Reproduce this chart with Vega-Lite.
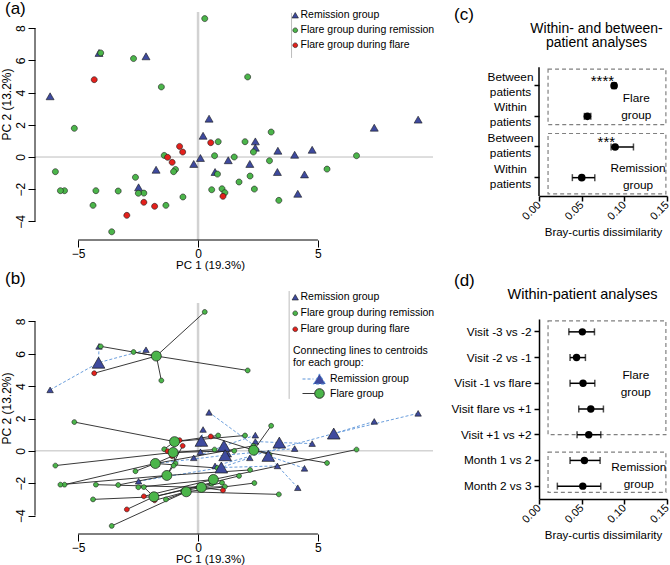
{
"$schema":"https://vega.github.io/schema/vega-lite/v6.json",
"background":"white",
"padding":{"left":0,"top":0,"right":0,"bottom":0},
"autosize":{"type":"pad"},
"spacing":15,
"resolve":{"scale":{"color":"independent","shape":"independent","strokeDash":"independent","strokeWidth":"independent"},"legend":{"color":"independent","shape":"independent","strokeDash":"independent","strokeWidth":"independent"}},
"config":{
 "font":"Liberation Sans",
 "view":{"stroke":null},
 "axis":{"grid":false,"labelColor":"#000","titleColor":"#000","domainColor":"#000","tickColor":"#000","titleFontWeight":"normal","labelFont":"Liberation Sans","titleFont":"Liberation Sans"},
 "legend":{"labelFont":"Liberation Sans","titleFont":"Liberation Sans","titleFontWeight":"normal","labelColor":"#000","titleColor":"#000"},
 "title":{"font":"Liberation Sans","fontWeight":"normal","color":"#000"},
 "text":{"font":"Liberation Sans"}
},
"datasets":{
 "pts":[
  {"pc1":-6.17,"pc2":3.77,"type":"Remission group","grp":"Remission group","cx":-4.15,"cy":5.45},
  {"pc1":-4.13,"pc2":6.46,"type":"Remission group","grp":"Remission group","cx":-4.15,"cy":5.45},
  {"pc1":-2.17,"pc2":6.25,"type":"Remission group","grp":"Remission group","cx":-4.15,"cy":5.45},
  {"pc1":0.21,"pc2":1.32,"type":"Remission group","grp":"Remission group","cx":0.14,"cy":0.62},
  {"pc1":0.10,"pc2":-0.06,"type":"Remission group","grp":"Remission group","cx":0.14,"cy":0.62},
  {"pc1":-0.18,"pc2":-0.43,"type":"Remission group","grp":"Remission group","cx":1.08,"cy":0.31},
  {"pc1":2.39,"pc2":0.97,"type":"Remission group","grp":"Remission group","cx":1.08,"cy":0.31},
  {"pc1":-1.75,"pc2":-0.79,"type":"Remission group","grp":"Remission group","cx":1.13,"cy":-0.27},
  {"pc1":1.26,"pc2":-0.2,"type":"Remission group","grp":"Remission group","cx":1.13,"cy":-0.27},
  {"pc1":4.03,"pc2":0.14,"type":"Remission group","grp":"Remission group","cx":1.13,"cy":-0.27},
  {"pc1":4.76,"pc2":0.45,"type":"Remission group","grp":"Remission group","cx":3.39,"cy":0.51},
  {"pc1":2.39,"pc2":0.58,"type":"Remission group","grp":"Remission group","cx":3.39,"cy":0.51},
  {"pc1":3.33,"pc2":0.39,"type":"Remission group","grp":"Remission group","cx":3.39,"cy":0.51},
  {"pc1":0.46,"pc2":2.38,"type":"Remission group","grp":"Remission group","cx":2.93,"cy":-0.31},
  {"pc1":4.44,"pc2":-1.08,"type":"Remission group","grp":"Remission group","cx":2.93,"cy":-0.31},
  {"pc1":4.16,"pc2":-2.28,"type":"Remission group","grp":"Remission group","cx":2.93,"cy":-0.31},
  {"pc1":-2.48,"pc2":-1.88,"type":"Remission group","grp":"Remission group","cx":0.97,"cy":-1.03},
  {"pc1":3.31,"pc2":-0.93,"type":"Remission group","grp":"Remission group","cx":0.97,"cy":-1.03},
  {"pc1":2.16,"pc2":-0.43,"type":"Remission group","grp":"Remission group","cx":0.97,"cy":-1.03},
  {"pc1":9.18,"pc2":2.32,"type":"Remission group","grp":"Remission group","cx":5.66,"cy":1.07},
  {"pc1":7.35,"pc2":1.82,"type":"Remission group","grp":"Remission group","cx":5.66,"cy":1.07},
  {"pc1":0.71,"pc2":-0.93,"type":"Remission group","grp":"Remission group","cx":5.66,"cy":1.07},
  {"pc1":0.28,"pc2":8.59,"type":"Flare group during remission","grp":"Flare group","cx":-1.74,"cy":5.86},
  {"pc1":-4.06,"pc2":6.46,"type":"Flare group during remission","grp":"Flare group","cx":-1.74,"cy":5.86},
  {"pc1":-2.69,"pc2":6.11,"type":"Flare group during remission","grp":"Flare group","cx":-1.74,"cy":5.86},
  {"pc1":-1.53,"pc2":4.35,"type":"Flare group during remission","grp":"Flare group","cx":-1.74,"cy":5.86},
  {"pc1":2.07,"pc2":4.97,"type":"Flare group during remission","grp":"Flare group","cx":-1.74,"cy":5.86},
  {"pc1":-5.16,"pc2":1.78,"type":"Flare group during remission","grp":"Flare group","cx":-0.98,"cy":0.57},
  {"pc1":0.84,"pc2":0.95,"type":"Flare group during remission","grp":"Flare group","cx":-0.98,"cy":0.57},
  {"pc1":1.96,"pc2":0.95,"type":"Flare group during remission","grp":"Flare group","cx":-0.98,"cy":0.57},
  {"pc1":-1.41,"pc2":0.1,"type":"Flare group during remission","grp":"Flare group","cx":-0.98,"cy":0.57},
  {"pc1":-5.95,"pc2":-0.91,"type":"Flare group during remission","grp":"Flare group","cx":-1.04,"cy":-0.1},
  {"pc1":0.69,"pc2":0.08,"type":"Flare group during remission","grp":"Flare group","cx":-1.04,"cy":-0.1},
  {"pc1":1.51,"pc2":0.0,"type":"Flare group during remission","grp":"Flare group","cx":-1.04,"cy":-0.1},
  {"pc1":-0.94,"pc2":-0.77,"type":"Flare group during remission","grp":"Flare group","cx":-1.04,"cy":-0.1},
  {"pc1":-5.57,"pc2":-2.09,"type":"Flare group during remission","grp":"Flare group","cx":-1.78,"cy":-0.78},
  {"pc1":-2.61,"pc2":-1.26,"type":"Flare group during remission","grp":"Flare group","cx":-1.78,"cy":-0.78},
  {"pc1":0.81,"pc2":-1.06,"type":"Flare group during remission","grp":"Flare group","cx":-1.78,"cy":-0.78},
  {"pc1":2.31,"pc2":0.31,"type":"Flare group during remission","grp":"Flare group","cx":-1.78,"cy":-0.78},
  {"pc1":-5.74,"pc2":-2.09,"type":"Flare group during remission","grp":"Flare group","cx":-1.30,"cy":-1.52},
  {"pc1":-1.02,"pc2":-0.91,"type":"Flare group during remission","grp":"Flare group","cx":-1.30,"cy":-1.52},
  {"pc1":2.17,"pc2":-1.18,"type":"Flare group during remission","grp":"Flare group","cx":-1.30,"cy":-1.52},
  {"pc1":-3.33,"pc2":-2.11,"type":"Flare group during remission","grp":"Flare group","cx":-1.30,"cy":-1.52},
  {"pc1":-4.38,"pc2":-3.0,"type":"Flare group during remission","grp":"Flare group","cx":-1.84,"cy":-2.84},
  {"pc1":-2.26,"pc2":-2.24,"type":"Flare group during remission","grp":"Flare group","cx":-1.84,"cy":-2.84},
  {"pc1":0.57,"pc2":-2.03,"type":"Flare group during remission","grp":"Flare group","cx":-1.84,"cy":-2.84},
  {"pc1":1.71,"pc2":-1.55,"type":"Flare group during remission","grp":"Flare group","cx":-1.84,"cy":-2.84},
  {"pc1":-3.6,"pc2":-4.64,"type":"Flare group during remission","grp":"Flare group","cx":-0.49,"cy":-2.53},
  {"pc1":-1.34,"pc2":-3.0,"type":"Flare group during remission","grp":"Flare group","cx":-0.49,"cy":-2.53},
  {"pc1":2.35,"pc2":-1.99,"type":"Flare group during remission","grp":"Flare group","cx":-0.49,"cy":-2.53},
  {"pc1":3.37,"pc2":-2.69,"type":"Flare group during remission","grp":"Flare group","cx":-0.49,"cy":-2.53},
  {"pc1":-4.26,"pc2":-2.09,"type":"Flare group during remission","grp":"Flare group","cx":0.14,"cy":-2.26},
  {"pc1":-0.63,"pc2":-2.48,"type":"Flare group during remission","grp":"Flare group","cx":0.14,"cy":-2.26},
  {"pc1":1.0,"pc2":-1.97,"type":"Flare group during remission","grp":"Flare group","cx":0.14,"cy":-2.26},
  {"pc1":1.12,"pc2":-2.21,"type":"Flare group during remission","grp":"Flare group","cx":0.14,"cy":-2.26},
  {"pc1":-2.49,"pc2":-2.25,"type":"Flare group during remission","grp":"Flare group","cx":0.64,"cy":-1.77},
  {"pc1":6.61,"pc2":0.08,"type":"Flare group during remission","grp":"Flare group","cx":0.64,"cy":-1.77},
  {"pc1":3.05,"pc2":1.55,"type":"Flare group during remission","grp":"Flare group","cx":2.32,"cy":0.04},
  {"pc1":2.98,"pc2":-0.23,"type":"Flare group during remission","grp":"Flare group","cx":2.32,"cy":0.04},
  {"pc1":5.38,"pc2":-0.75,"type":"Flare group during remission","grp":"Flare group","cx":2.32,"cy":0.04},
  {"pc1":-4.33,"pc2":4.8,"type":"Flare group during flare","grp":"Flare group","cx":-1.74,"cy":5.86},
  {"pc1":-0.77,"pc2":0.66,"type":"Flare group during flare","grp":"Flare group","cx":-0.98,"cy":0.57},
  {"pc1":-1.27,"pc2":-0.02,"type":"Flare group during flare","grp":"Flare group","cx":-1.04,"cy":-0.1},
  {"pc1":-1.08,"pc2":-0.33,"type":"Flare group during flare","grp":"Flare group","cx":-1.78,"cy":-0.78},
  {"pc1":-0.64,"pc2":0.31,"type":"Flare group during flare","grp":"Flare group","cx":-1.30,"cy":-1.52},
  {"pc1":-2.97,"pc2":-3.62,"type":"Flare group during flare","grp":"Flare group","cx":-1.84,"cy":-2.84},
  {"pc1":-1.81,"pc2":-3.06,"type":"Flare group during flare","grp":"Flare group","cx":-0.49,"cy":-2.53},
  {"pc1":1.04,"pc2":-2.44,"type":"Flare group during flare","grp":"Flare group","cx":0.14,"cy":-2.26},
  {"pc1":-2.26,"pc2":-2.81,"type":"Flare group during flare","grp":"Flare group","cx":0.64,"cy":-1.77},
  {"pc1":0.53,"pc2":0.89,"type":"Flare group during flare","grp":"Flare group","cx":2.32,"cy":0.04}
 ],
 "cent":[
  {"cx":-4.15,"cy":5.45,"grp":"Remission group"},
  {"cx":0.14,"cy":0.62,"grp":"Remission group"},
  {"cx":1.08,"cy":0.31,"grp":"Remission group"},
  {"cx":1.13,"cy":-0.27,"grp":"Remission group"},
  {"cx":0.97,"cy":-1.03,"grp":"Remission group"},
  {"cx":3.39,"cy":0.51,"grp":"Remission group"},
  {"cx":2.93,"cy":-0.31,"grp":"Remission group"},
  {"cx":5.66,"cy":1.07,"grp":"Remission group"},
  {"cx":-1.74,"cy":5.86,"grp":"Flare group"},
  {"cx":-0.98,"cy":0.57,"grp":"Flare group"},
  {"cx":-1.04,"cy":-0.1,"grp":"Flare group"},
  {"cx":-1.78,"cy":-0.78,"grp":"Flare group"},
  {"cx":-1.30,"cy":-1.52,"grp":"Flare group"},
  {"cx":-1.84,"cy":-2.84,"grp":"Flare group"},
  {"cx":-0.49,"cy":-2.53,"grp":"Flare group"},
  {"cx":0.14,"cy":-2.26,"grp":"Flare group"},
  {"cx":0.64,"cy":-1.77,"grp":"Flare group"},
  {"cx":2.32,"cy":0.04,"grp":"Flare group"}
 ],
 "cdat":[
  {"cat":"Between patients|F","mean":0.088,"lo":0.0855,"hi":0.0905,"sig":"****"},
  {"cat":"Within patients|F","mean":0.0567,"lo":0.0532,"hi":0.0607},
  {"cat":"Between patients|R","mean":0.0892,"lo":0.0845,"hi":0.1107,"sig":"***"},
  {"cat":"Within patients|R","mean":0.0501,"lo":0.0391,"hi":0.0654}
 ],
 "cbox":[
  {"grp":"Flare","top":"Between patients|F","bottom":"Within patients|F","at":"Between patients|F","label":"Flare\ngroup"},
  {"grp":"Remission","top":"Between patients|R","bottom":"Within patients|R","at":"Within patients|R","label":"Remission\ngroup"}
 ],
 "caxis":[{"first":"Between patients|F","last":"Within patients|R"}],
 "ddat":[
  {"cat":"Visit -3 vs -2","mean":0.0508,"lo":0.035,"hi":0.065},
  {"cat":"Visit -2 vs -1","mean":0.044,"lo":0.0364,"hi":0.0544},
  {"cat":"Visit -1 vs flare","mean":0.0516,"lo":0.0364,"hi":0.0654},
  {"cat":"Visit flare vs +1","mean":0.0607,"lo":0.0466,"hi":0.0755},
  {"cat":"Visit +1 vs +2","mean":0.0583,"lo":0.0446,"hi":0.0724},
  {"cat":"Month 1 vs 2","mean":0.0532,"lo":0.0364,"hi":0.0716},
  {"cat":"Month 2 vs 3","mean":0.0513,"lo":0.0215,"hi":0.0724}
 ],
 "dbox":[
  {"grp":"Flare","top":"Visit -3 vs -2","bottom":"Visit +1 vs +2","at":"Visit -1 vs flare","label":"Flare\ngroup"},
  {"grp":"Remission","top":"Month 1 vs 2","bottom":"Month 2 vs 3","at":"Month 1 vs 2","label":"Remission\ngroup"}
 ]
},
"hconcat":[
 {"spacing":-2,
  "resolve":{"scale":{"color":"independent","shape":"independent","strokeDash":"independent","strokeWidth":"independent"},"legend":{"color":"independent","shape":"independent","strokeDash":"independent","strokeWidth":"independent"}},
  "vconcat":[
  {
   "width":398,"height":228,
   "title":{"text":"(a)","anchor":"start","frame":"group","fontSize":17,"dx":-30,"offset":-8},
   "resolve":{"axis":{"x":"independent","y":"independent"}},
   "layer":[
    {"data":{"values":[{}]},"mark":{"type":"rule","color":"#D2D2D2","strokeWidth":2.5},
     "encoding":{"x":{"datum":0,"type":"quantitative","axis":null}}},
    {"data":{"values":[{}]},"mark":{"type":"rule","color":"#BDBDBD","strokeWidth":1},
     "encoding":{"y":{"datum":0,"type":"quantitative","axis":null}}},
    {"data":{"values":[{}]},"mark":{"type":"rule","color":"#000","strokeWidth":1},
     "encoding":{"x":{"datum":-5,"type":"quantitative","axis":null},"x2":{"datum":5},"y":{"datum":-5.15,"type":"quantitative","axis":null}}},
    {"data":{"values":[{}]},"mark":{"type":"rule","color":"#000","strokeWidth":1},
     "encoding":{"x":{"datum":-6.8,"type":"quantitative","axis":null},"y":{"datum":-4,"type":"quantitative","axis":null},"y2":{"datum":8}}},
    {"data":{"values":[{}]},"mark":{"type":"rule","color":"#BDBDBD","strokeWidth":1},
     "encoding":{"x":{"datum":3.9,"type":"quantitative","axis":null},"y":{"datum":6.15,"type":"quantitative","axis":null},"y2":{"datum":8.94}}},
    {"data":{"name":"pts"},"mark":{"type":"point","filled":true,"opacity":1,"stroke":"#1a1a1a","strokeWidth":0.6,"size":64},
     "encoding":{
      "x":{"field":"pc1","type":"quantitative","scale":{"domain":[-6.8,9.8],"nice":false,"zero":false},
       "axis":{"values":[-5,0,5],"domain":false,"tickSize":7,"labelFontSize":12,"labelPadding":1,"labelFlush":false,"title":"PC 1 (19.3%)","titleFontSize":11.5,"titlePadding":0,"titleX":175}},
      "y":{"field":"pc2","type":"quantitative","scale":{"domain":[-5.15,9],"nice":false,"zero":false},
       "axis":{"values":[-4,-2,0,2,4,6,8],"domain":false,"tickSize":7,"labelAngle":-90,"labelAlign":"center","labelBaseline":"bottom","labelPadding":1,"labelFontSize":12,"labelFlush":false,"title":"PC 2 (13.2%)","titleFontSize":12,"titlePadding":1,"titleY":92}},
      "color":{"field":"type","type":"nominal","scale":{"domain":["Remission group","Flare group during remission","Flare group during flare"],"range":["#3E4A9E","#4BB54A","#E3211C"]},
        "legend":{"title":null,"orient":"none","legendX":255,"legendY":-2,"labelFontSize":10.5,"rowPadding":4,"labelOffset":0,"symbolSize":40,"symbolStrokeColor":"#1a1a1a","symbolStrokeWidth":0.6}},
      "shape":{"field":"type","type":"nominal","scale":{"domain":["Remission group","Flare group during remission","Flare group during flare"],"range":["M -1 0.866 L 0 -0.866 L 1 0.866 Z","M 0.75 0 A 0.75 0.75 0 1 1 -0.75 0 A 0.75 0.75 0 1 1 0.75 0 Z","M 0.75 0 A 0.75 0.75 0 1 1 -0.75 0 A 0.75 0.75 0 1 1 0.75 0 Z"]}}
     }}
   ]
  },
  {
   "width":398,"height":231,
   "title":{"text":"(b)","anchor":"start","frame":"group","fontSize":17,"dx":-30,"offset":3},
   "resolve":{"axis":{"x":"independent","y":"independent"}},
   "layer":[
    {"data":{"values":[{}]},"mark":{"type":"rule","color":"#D2D2D2","strokeWidth":2.5},
     "encoding":{"x":{"datum":0,"type":"quantitative","axis":null}}},
    {"data":{"values":[{}]},"mark":{"type":"rule","color":"#BDBDBD","strokeWidth":1},
     "encoding":{"y":{"datum":0,"type":"quantitative","axis":null}}},
    {"data":{"values":[{}]},"mark":{"type":"rule","color":"#000","strokeWidth":1},
     "encoding":{"x":{"datum":-5,"type":"quantitative","axis":null},"x2":{"datum":5},"y":{"datum":-5.14,"type":"quantitative","axis":null}}},
    {"data":{"values":[{}]},"mark":{"type":"rule","color":"#000","strokeWidth":1},
     "encoding":{"x":{"datum":-6.8,"type":"quantitative","axis":null},"y":{"datum":-4,"type":"quantitative","axis":null},"y2":{"datum":8}}},
    {"data":{"values":[{}]},"mark":{"type":"rule","color":"#BDBDBD","strokeWidth":1},
     "encoding":{"x":{"datum":3.8,"type":"quantitative","axis":null},"y":{"datum":3.21,"type":"quantitative","axis":null},"y2":{"datum":9.88}}},
    {"data":{"name":"pts"},"transform":[{"filter":"datum.grp === 'Remission group'"}],
     "mark":{"type":"rule","color":"#5A93D8","strokeWidth":0.9},
     "encoding":{"x":{"field":"pc1","type":"quantitative","axis":null},"y":{"field":"pc2","type":"quantitative","axis":null},"x2":{"field":"cx"},"y2":{"field":"cy"},
      "strokeDash":{"field":"grp","type":"nominal","scale":{"domain":["Remission group"],"range":[[3,2]]},
       "legend":{"title":["Connecting lines to centroids","for each group:"],"orient":"none","legendX":258,"legendY":43,"titleFontSize":10.5,"titleLineHeight":12,"titlePadding":4,"labelFontSize":10.5,"labelOffset":24,"symbolSize":144,
        "symbolType":"M 0.5 0 L 2.33 0 M 2.33 0.85 L 3.33 -0.85 L 4.33 0.85 Z","symbolFillColor":"#3E4A9E","symbolStrokeColor":"#5A93D8","symbolStrokeWidth":1}}}},
    {"data":{"name":"pts"},"transform":[{"filter":"datum.grp === 'Flare group'"}],
     "mark":{"type":"rule","color":"#222222"},
     "encoding":{"x":{"field":"pc1","type":"quantitative","axis":null},"y":{"field":"pc2","type":"quantitative","axis":null},"x2":{"field":"cx"},"y2":{"field":"cy"},
      "strokeWidth":{"field":"grp","type":"nominal","scale":{"domain":["Flare group"],"range":[0.9,0.9]},
       "legend":{"title":null,"orient":"none","legendX":258,"legendY":84,"labelFontSize":10.5,"labelOffset":24,"symbolSize":144,
        "symbolType":"M 0.5 0 L 2.53 0 M 4.13 0 A 0.8 0.8 0 1 1 2.53 0 A 0.8 0.8 0 1 1 4.13 0 Z","symbolFillColor":"#4BB54A","symbolStrokeColor":"#222222"}}}},
    {"data":{"name":"pts"},"mark":{"type":"point","filled":true,"opacity":1,"stroke":"#1a1a1a","strokeWidth":0.6,"size":42},
     "encoding":{
      "x":{"field":"pc1","type":"quantitative","scale":{"domain":[-6.8,9.8],"nice":false,"zero":false},
       "axis":{"values":[-5,0,5],"domain":false,"tickSize":7,"labelFontSize":12,"labelPadding":1,"labelFlush":false,"title":"PC 1 (19.3%)","titleFontSize":11.5,"titlePadding":0,"titleX":175}},
      "y":{"field":"pc2","type":"quantitative","scale":{"domain":[-5.14,9.14],"nice":false,"zero":false},
       "axis":{"values":[-4,-2,0,2,4,6,8],"domain":false,"tickSize":7,"labelAngle":-90,"labelAlign":"center","labelBaseline":"bottom","labelPadding":1,"labelFontSize":12,"labelFlush":false,"title":"PC 2 (13.2%)","titleFontSize":12,"titlePadding":1,"titleY":105}},
      "color":{"field":"type","type":"nominal","scale":{"domain":["Remission group","Flare group during remission","Flare group during flare"],"range":["#3E4A9E","#4BB54A","#E3211C"]},
        "legend":{"title":null,"orient":"none","legendX":255,"legendY":-11,"labelFontSize":10.5,"rowPadding":5,"labelOffset":0,"symbolSize":40,"symbolStrokeColor":"#1a1a1a","symbolStrokeWidth":0.6}},
      "shape":{"field":"type","type":"nominal","scale":{"domain":["Remission group","Flare group during remission","Flare group during flare"],"range":["M -1 0.866 L 0 -0.866 L 1 0.866 Z","M 0.75 0 A 0.75 0.75 0 1 1 -0.75 0 A 0.75 0.75 0 1 1 0.75 0 Z","M 0.75 0 A 0.75 0.75 0 1 1 -0.75 0 A 0.75 0.75 0 1 1 0.75 0 Z"]}}
     }},
    {"data":{"name":"cent"},"transform":[{"filter":"datum.grp === 'Remission group'"}],
     "mark":{"type":"point","filled":true,"opacity":1,"shape":"triangle-up","size":160,"color":"#3E4A9E","stroke":"#1a1a1a","strokeWidth":0.7},
     "encoding":{"x":{"field":"cx","type":"quantitative","axis":null},"y":{"field":"cy","type":"quantitative","axis":null}}},
    {"data":{"name":"cent"},"transform":[{"filter":"datum.grp === 'Flare group'"}],
     "mark":{"type":"point","filled":true,"opacity":1,"shape":"circle","size":100,"color":"#4BB54A","stroke":"#1a1a1a","strokeWidth":0.7},
     "encoding":{"x":{"field":"cx","type":"quantitative","axis":null},"y":{"field":"cy","type":"quantitative","axis":null}}}
   ]
  }
 ]},
 {"spacing":33,"vconcat":[
  {
   "width":128,"height":184,
   "title":{"text":"(c)","anchor":"start","frame":"group","fontSize":17,"dx":-85,"offset":-12},
   "resolve":{"axis":{"x":"independent","y":"independent"}},
   "layer":[
    {"data":{"name":"cbox"},"transform":[{"filter":"datum.grp === 'Flare'"}],
     "mark":{"type":"rect","fillOpacity":0,"stroke":"#808080","strokeDash":[4,3],"strokeWidth":1.2},
     "encoding":{"x":{"datum":0.0106,"type":"quantitative","scale":{"domain":[0,0.15],"nice":false,"zero":false},"axis":null},"x2":{"datum":0.1487},
      "y":{"field":"top","type":"nominal","bandPosition":-0.04,"scale":{"type":"band","domain":["Between patients|F","Within patients|F","Between patients|R","Within patients|R"],"paddingInner":0,"paddingOuter":1.0185,"align":0.951},"axis":null},
      "y2":{"field":"bottom","bandPosition":0.77}}},
    {"data":{"name":"cbox"},"transform":[{"filter":"datum.grp === 'Remission'"}],
     "mark":{"type":"rect","fillOpacity":0,"stroke":"#808080","strokeDash":[4,3],"strokeWidth":1.2},
     "encoding":{"x":{"datum":0.0106,"type":"quantitative","axis":null},"x2":{"datum":0.1487},
      "y":{"field":"top","type":"nominal","bandPosition":0.06,"axis":null},
      "y2":{"field":"bottom","bandPosition":1.03}}},
    {"data":{"name":"caxis"},"mark":{"type":"rule","color":"#000","strokeWidth":1.5},
     "encoding":{"x":{"datum":0,"type":"quantitative","axis":null},
      "y":{"field":"first","type":"nominal","bandPosition":-0.1,"axis":null},
      "y2":{"field":"last","bandPosition":1.1}}},
    {"data":{"name":"cdat"},"mark":{"type":"rule","color":"#000","strokeWidth":1.5},
     "encoding":{"x":{"field":"lo","type":"quantitative","axis":{"orient":"top","title":["Within- and between-","patient analyses"],"labels":false,"ticks":false,"domain":false,"titleFontSize":14,"titleLineHeight":14.5,"titleBaseline":"middle","titleY":16,"titleX":57}},"x2":{"field":"hi"},
      "y":{"field":"cat","type":"nominal","axis":null}}},
    {"data":{"name":"cdat"},"mark":{"type":"tick","orient":"vertical","size":7,"thickness":1.5,"color":"#000"},
     "encoding":{"x":{"field":"lo","type":"quantitative","axis":null},"y":{"field":"cat","type":"nominal","axis":null}}},
    {"data":{"name":"cdat"},"mark":{"type":"tick","orient":"vertical","size":7,"thickness":1.5,"color":"#000"},
     "encoding":{"x":{"field":"hi","type":"quantitative","axis":null},"y":{"field":"cat","type":"nominal","axis":null}}},
    {"data":{"name":"cdat"},"mark":{"type":"point","filled":true,"opacity":1,"shape":"circle","size":58,"color":"#000"},
     "encoding":{"x":{"field":"mean","type":"quantitative","axis":{"orient":"bottom","values":[0,0.05,0.1,0.15],"format":".2f","labelAngle":-45,"labelAlign":"right","labelBaseline":"middle","tickSize":5,"tickWidth":1.5,"domainWidth":1.5,"labelFontSize":11,"labelPadding":2,"labelFlush":false,"title":"Bray-curtis dissimilarity","titleFontSize":11.5,"titlePadding":5}},
      "y":{"field":"cat","type":"nominal","axis":{"title":null,"domain":false,"labelExpr":"split(split(datum.value, '|')[0], ' ')","labelFontSize":11.8,"labelLineHeight":15,"labelAlign":"center","labelBaseline":"middle","labelPadding":24,"labelOffset":-9,"tickSize":5,"tickWidth":1.5}}}},
    {"data":{"name":"cdat"},"transform":[{"filter":"datum.sig"}],"mark":{"type":"text","fontSize":15,"align":"right","baseline":"alphabetic","color":"#000"},
     "encoding":{"x":{"field":"mean","type":"quantitative","axis":null},"y":{"field":"cat","type":"nominal","axis":null},"text":{"field":"sig"}}},
    {"data":{"name":"cbox"},"transform":[{"filter":"datum.grp === 'Flare'"}],"mark":{"type":"text","lineBreak":"\n","fontSize":11.8,"lineHeight":17,"align":"center","baseline":"middle","color":"#000"},
     "encoding":{"x":{"datum":0.114,"type":"quantitative","axis":null},"y":{"field":"at","type":"nominal","bandPosition":0.9,"axis":null},"text":{"field":"label"}}},
    {"data":{"name":"cbox"},"transform":[{"filter":"datum.grp === 'Remission'"}],"mark":{"type":"text","lineBreak":"\n","fontSize":11.8,"lineHeight":17,"align":"center","baseline":"middle","color":"#000"},
     "encoding":{"x":{"datum":0.116,"type":"quantitative","axis":null},"y":{"field":"at","type":"nominal","bandPosition":0.18,"axis":null},"text":{"field":"label"}}}
   ]
  },
  {
   "width":128,"height":180,
   "title":{"text":"(d)","anchor":"start","frame":"group","fontSize":17,"dx":-85,"offset":-4},
   "resolve":{"axis":{"x":"independent","y":"independent"}},
   "layer":[
    {"data":{"name":"dbox"},"transform":[{"filter":"datum.grp === 'Flare'"}],
     "mark":{"type":"rect","fillOpacity":0,"stroke":"#808080","strokeDash":[4,3],"strokeWidth":1.2},
     "encoding":{"x":{"datum":0.0106,"type":"quantitative","scale":{"domain":[0,0.15],"nice":false,"zero":false},"axis":null},"x2":{"datum":0.1487},
      "y":{"field":"top","type":"nominal","bandPosition":0.07,"scale":{"type":"band","domain":["Visit -3 vs -2","Visit -2 vs -1","Visit -1 vs flare","Visit flare vs +1","Visit +1 vs +2","Month 1 vs 2","Month 2 vs 3"],"paddingInner":0,"paddingOuter":0},"axis":null},
      "y2":{"field":"bottom","bandPosition":0.5}}},
    {"data":{"name":"dbox"},"transform":[{"filter":"datum.grp === 'Remission'"}],
     "mark":{"type":"rect","fillOpacity":0,"stroke":"#808080","strokeDash":[4,3],"strokeWidth":1.2},
     "encoding":{"x":{"datum":0.0106,"type":"quantitative","axis":null},"x2":{"datum":0.1487},
      "y":{"field":"top","type":"nominal","bandPosition":0.18,"axis":null},
      "y2":{"field":"bottom","bandPosition":0.74}}},
    {"data":{"name":"ddat"},"mark":{"type":"rule","color":"#000","strokeWidth":1.5},
     "encoding":{"x":{"field":"lo","type":"quantitative","axis":{"orient":"top","title":"Within-patient analyses","labels":false,"ticks":false,"domain":false,"titleFontSize":14.5,"titleBaseline":"middle","titleY":-25,"titleX":43}},"x2":{"field":"hi"},
      "y":{"field":"cat","type":"nominal","axis":null}}},
    {"data":{"name":"ddat"},"mark":{"type":"tick","orient":"vertical","size":7,"thickness":1.5,"color":"#000"},
     "encoding":{"x":{"field":"lo","type":"quantitative","axis":null},"y":{"field":"cat","type":"nominal","axis":null}}},
    {"data":{"name":"ddat"},"mark":{"type":"tick","orient":"vertical","size":7,"thickness":1.5,"color":"#000"},
     "encoding":{"x":{"field":"hi","type":"quantitative","axis":null},"y":{"field":"cat","type":"nominal","axis":null}}},
    {"data":{"name":"ddat"},"mark":{"type":"point","filled":true,"opacity":1,"shape":"circle","size":55,"color":"#000"},
     "encoding":{"x":{"field":"mean","type":"quantitative","axis":{"orient":"bottom","values":[0,0.05,0.1,0.15],"format":".2f","labelAngle":-45,"labelAlign":"right","labelBaseline":"middle","tickSize":5,"tickWidth":1.5,"domainWidth":1.5,"labelFontSize":11,"labelPadding":2,"labelFlush":false,"title":"Bray-curtis dissimilarity","titleFontSize":11.5,"titlePadding":5}},
      "y":{"field":"cat","type":"nominal","axis":{"title":null,"labelFontSize":11.8,"labelPadding":3,"tickSize":5,"tickWidth":1.5,"domainWidth":1.5}}}},
    {"data":{"name":"dbox"},"transform":[{"filter":"datum.grp === 'Flare'"}],"mark":{"type":"text","lineBreak":"\n","fontSize":11.8,"lineHeight":17,"align":"center","baseline":"middle","color":"#000"},
     "encoding":{"x":{"datum":0.1135,"type":"quantitative","axis":null},"y":{"field":"at","type":"nominal","bandPosition":0.17,"axis":null},"text":{"field":"label"}}},
    {"data":{"name":"dbox"},"transform":[{"filter":"datum.grp === 'Remission'"}],"mark":{"type":"text","lineBreak":"\n","fontSize":11.8,"lineHeight":17,"align":"center","baseline":"middle","color":"#000"},
     "encoding":{"x":{"datum":0.117,"type":"quantitative","axis":null},"y":{"field":"at","type":"nominal","bandPosition":0.77,"axis":null},"text":{"field":"label"}}}
   ]
  }
 ]}
]
}
